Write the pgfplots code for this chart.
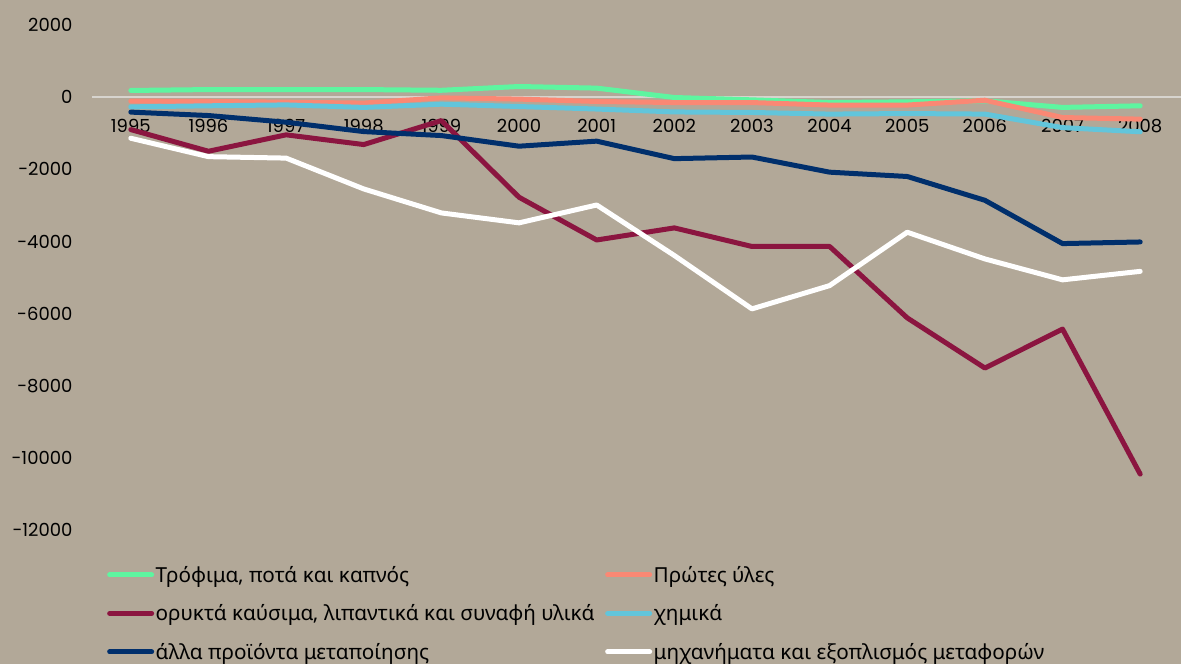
\documentclass[border=0pt]{standalone}
\usepackage{pgfplots}
\pgfplotsset{compat=1.18}
\usepackage{fontspec}
\setmainfont{Noto Sans}
\newfontfamily\numfont{Poppins}
\definecolor{bg}{RGB}{178,168,152}
\definecolor{cgreen}{RGB}{94,245,160}
\definecolor{csalmon}{RGB}{250,136,116}
\definecolor{ccyan}{RGB}{98,197,219}
\definecolor{cnavy}{RGB}{0,47,108}
\definecolor{cmaroon}{RGB}{139,21,64}
\definecolor{zline}{RGB}{215,212,206}
\begin{document}
\begin{tikzpicture}[x=1pt,y=1pt]
\fill[bg] (0,0) rectangle (1181,664);
\useasboundingbox (0,0) rectangle (1181,664);
\begin{axis}[
  at={(92pt,134pt)}, anchor=south west,
  scale only axis, width=1087pt, height=505pt,
  xmin=-0.5, xmax=13.5, ymin=-12000, ymax=2000,
  scaled y ticks=false,
  axis x line=middle, axis y line=left,
  x axis line style={-, draw=zline, line width=1.6pt, shorten >=-3pt},
  y axis line style={draw=none},
  every inner x axis line/.append style={-},
  every outer y axis line/.append style={-},
  major tick length=0pt,
  xtick={0,...,13},
  xticklabels={1995,1996,1997,1998,1999,2000,2001,2002,2003,2004,2005,2006,2007,2008},
  ytick={-12000,-10000,-8000,-6000,-4000,-2000,0,2000},
  yticklabels={-12000,-10000,-8000,-6000,-4000,-2000,0,2000},
  xticklabel style={font=\numfont\fontsize{18}{18}\selectfont, text=black, anchor=north, yshift=-19pt},
  yticklabel style={font=\numfont\fontsize{18}{18}\selectfont, text=black, anchor=east, xshift=-16pt},
  clip=false,
  every axis plot/.append style={line width=5pt, line join=round, line cap=round},
  legend columns=2,
  legend cell align=left,
  legend image code/.code={\draw[#1, line width=5pt, line cap=round] (0pt,0pt) -- (42pt,0pt);},
  legend style={at={(axis description cs:0.011,-0.064)}, anchor=north west,
    draw=none, fill=none, font=\fontsize{20.7}{20.7}\selectfont, text=black,
    nodes={inner sep=1.5pt}, row sep=18pt},
]
\addplot[cgreen] coordinates {(0,185)(1,210)(2,210)(3,210)(4,190)(5,295)(6,250)(7,-10)(8,-75)(9,-150)(10,-130)(11,-100)(12,-285)(13,-240)};
\addlegendentry{\makebox[448pt][l]{Τρόφιμα, ποτά και καπνός}}
\addplot[csalmon] coordinates {(0,-110)(1,-120)(2,-140)(3,-165)(4,-20)(5,-55)(6,-120)(7,-150)(8,-150)(9,-220)(10,-220)(11,-85)(12,-565)(13,-610)};
\addlegendentry{Πρώτες ύλες}
\addplot[cmaroon] coordinates {(0,-900)(1,-1500)(2,-1045)(3,-1315)(4,-650)(5,-2775)(6,-3960)(7,-3625)(8,-4140)(9,-4140)(10,-6120)(11,-7510)(12,-6430)(13,-10450)};
\addlegendentry{\makebox[448pt][l]{ορυκτά καύσιμα, λιπαντικά και συναφή υλικά}}
\addplot[ccyan] coordinates {(0,-270)(1,-240)(2,-215)(3,-285)(4,-195)(5,-260)(6,-330)(7,-410)(8,-425)(9,-470)(10,-455)(11,-470)(12,-845)(13,-960)};
\addlegendentry{χημικά}
\addplot[cnavy] coordinates {(0,-415)(1,-510)(2,-695)(3,-955)(4,-1065)(5,-1360)(6,-1220)(7,-1705)(8,-1660)(9,-2080)(10,-2200)(11,-2860)(12,-4060)(13,-4015)};
\addlegendentry{\makebox[448pt][l]{άλλα προϊόντα μεταποίησης}}
\addplot[white] coordinates {(0,-1140)(1,-1650)(2,-1690)(3,-2545)(4,-3210)(5,-3485)(6,-2990)(7,-4390)(8,-5870)(9,-5225)(10,-3745)(11,-4485)(12,-5065)(13,-4830)};
\addlegendentry{μηχανήματα και εξοπλισμός μεταφορών}
\end{axis}
\end{tikzpicture}
\end{document}
